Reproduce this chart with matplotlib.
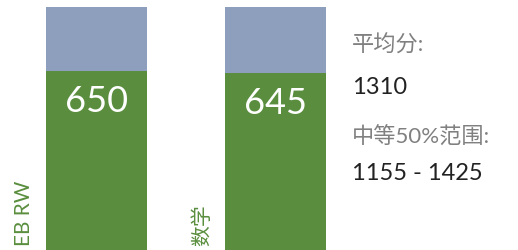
import matplotlib
matplotlib.use("Agg")
import matplotlib.pyplot as plt

# ==============================
# DATA
# ==============================
subjects = ["EB RW", "数学"]
scores = [650, 645]
max_score = 800
avg_label = "平均分:"
avg_value = "1310"
range_label = "中等50%范围:"
range_value = "1155 - 1425"

green = "#5a8e3e"
slate = "#8e9fbd"
cjk = ["Lato", "Noto Sans CJK SC", "DejaVu Sans"]

fig = plt.figure(figsize=(5.18, 2.5), dpi=100)
ax = fig.add_axes([0, 0, 1, 1])

x = list(range(len(scores)))
rest = [max_score - s for s in scores]
ax.bar(x, scores, width=0.564, color=green, linewidth=0)
ax.bar(x, rest, bottom=scores, width=0.564, color=slate, linewidth=0)

for xi, s in zip(x, scores):
    ax.annotate(str(s), (xi, s), xytext=(0, -10), textcoords="offset points",
                ha="center", va="top", color="white", fontsize=26,
                family=cjk)

for xi, name in zip(x, subjects):
    ax.annotate(name, (xi - 0.282, 229), xytext=(-9, 3), textcoords="offset points",
                rotation=90, ha="right", va="bottom", color=green,
                fontsize=15, family=cjk)

ax.set_xlim(-0.539, 2.355)
ax.set_ylim(229, 816.4)
ax.axis("off")

fig.text(352 / 518, 1 - 45 / 250, avg_label, ha="left", va="center",
         color="#808080", fontsize=16, family=cjk)
fig.text(352 / 518, 1 - 88 / 250, avg_value, ha="left", va="center",
         color="#222222", fontsize=17, family=cjk)
fig.text(352 / 518, 1 - 137 / 250, range_label, ha="left", va="center",
         color="#808080", fontsize=16, family=cjk)
fig.text(352 / 518, 1 - 173 / 250, range_value, ha="left", va="center",
         color="#222222", fontsize=17, family=cjk)

plt.savefig("out.png", dpi=100)
